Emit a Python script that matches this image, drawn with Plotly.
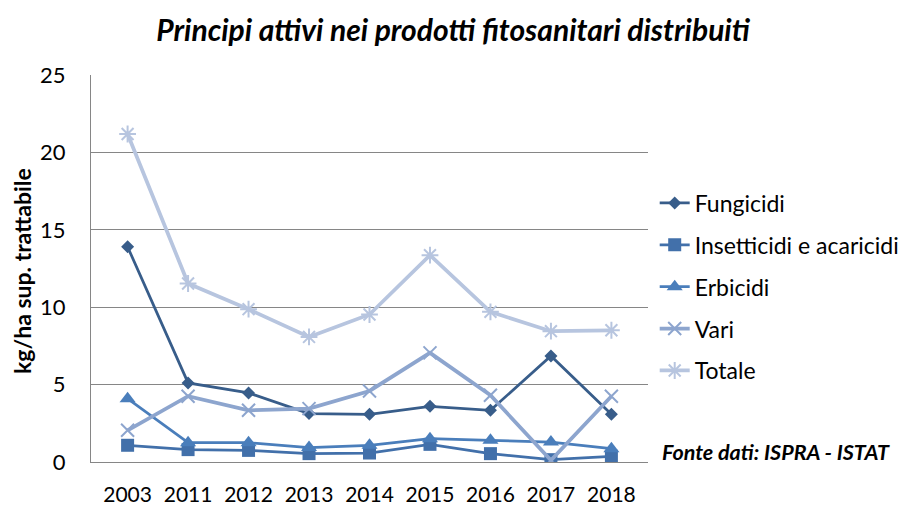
import plotly.graph_objects as go

years = ["2003", "2011", "2012", "2013", "2014", "2015", "2016", "2017", "2018"]
fungicidi = [13.9, 5.11, 4.46, 3.13, 3.08, 3.6, 3.34, 6.85, 3.08]
insetticidi = [1.08, 0.8, 0.75, 0.54, 0.58, 1.14, 0.54, 0.15, 0.37]
erbicidi = [4.09, 1.25, 1.25, 0.93, 1.08, 1.51, 1.4, 1.29, 0.86]
vari = [2.05, 4.25, 3.34, 3.45, 4.59, 7.05, 4.31, 0.11, 4.25]
totale = [21.19, 11.53, 9.87, 8.08, 9.53, 13.36, 9.7, 8.45, 8.51]

series_names = ["Fungicidi", "Insetticidi e acaricidi", "Erbicidi", "Vari", "Totale"]
y_ticks = [0, 5, 10, 15, 20, 25]

FONT = "Lato, 'Open Sans', sans-serif"

# page body has an 8px margin, so the figure is drawn 8px smaller and
# every pixel position is measured from (8, 8)
W, H = 899, 497
PL, PR, PT, PB = 83, 640, 67, 454   # plot area in figure pixels
PW, PH = PR - PL, PB - PT

styles = [
    dict(color="#385D8A", symbol="diamond", size=10, lw=2.75, mlw=0),
    dict(color="#4270AA", symbol="square", size=13, lw=2.75, mlw=0),
    dict(color="#4A7EBB", symbol="triangle-up", size=14, lw=2.75, mlw=0),
    dict(color="#8DA5CE", symbol="x-thin-open", size=13, lw=3.75, mlw=2),
    dict(color="#B7C5DF", symbol="asterisk-open", size=14, lw=3.75, mlw=2),
]

data = [fungicidi, insetticidi, erbicidi, vari, totale]

fig = go.Figure()
for i, (name, vals, st) in enumerate(zip(series_names, data, styles)):
    fig.add_trace(go.Scatter(
        x=years, y=vals, name=name, mode="lines+markers",
        legendgroup=f"g{i}",
        line=dict(color=st["color"], width=st["lw"]),
        marker=dict(symbol=st["symbol"], size=st["size"], color=st["color"],
                    line=dict(color=st["color"], width=st["mlw"])),
    ))

fig.update_layout(
    width=W, height=H,
    margin=dict(l=PL, r=W - PR, t=PT, b=H - PB, autoexpand=False),
    paper_bgcolor="white", plot_bgcolor="white",
    font=dict(family=FONT, color="#000000"),
    title=dict(text="<b><i>Principi attivi nei prodotti fitosanitari distribuiti</i></b>",
               x=(453 - 8) / W, xanchor="center", xref="container",
               y=1 - 22 / H, yanchor="middle",
               font=dict(size=30, family=FONT, color="#000000")),
    legend=dict(x=(646.7 - PL) / PW, xanchor="left", y=0.725, yanchor="top",
                font=dict(size=23, family=FONT), tracegroupgap=9,
                bgcolor="rgba(0,0,0,0)"),
    showlegend=True,
)

fig.update_xaxes(
    type="category", showline=True, linecolor="#868686", linewidth=1,
    showgrid=False, ticks="", tickfont=dict(size=21, family=FONT),
    ticklabelstandoff=14, automargin=False,
)
fig.update_yaxes(
    range=[0, 25], tickvals=y_ticks, showline=True, linecolor="#868686",
    linewidth=1, gridcolor="#868686", gridwidth=1, zeroline=False,
    tickfont=dict(size=22, family=FONT), ticks="", ticklabelstandoff=20,
    automargin=False,
)

fig.add_annotation(
    text="<b>kg/ha sup. trattabile</b>", xref="paper", yref="paper",
    x=(14 - PL) / PW, xanchor="center", y=(PB - 263) / PH, yanchor="middle",
    textangle=-90, showarrow=False, font=dict(size=23, family=FONT, color="#000000"),
)

fig.add_annotation(
    text="<b><i>Fonte dati: ISPRA - ISTAT</i></b>", xref="paper", yref="paper",
    x=(652 - PL) / PW, xanchor="left", y=(PB - 444) / PH, yanchor="middle",
    showarrow=False, font=dict(size=21.5, family=FONT, color="#000000"),
)

fig.write_html("out.html")
